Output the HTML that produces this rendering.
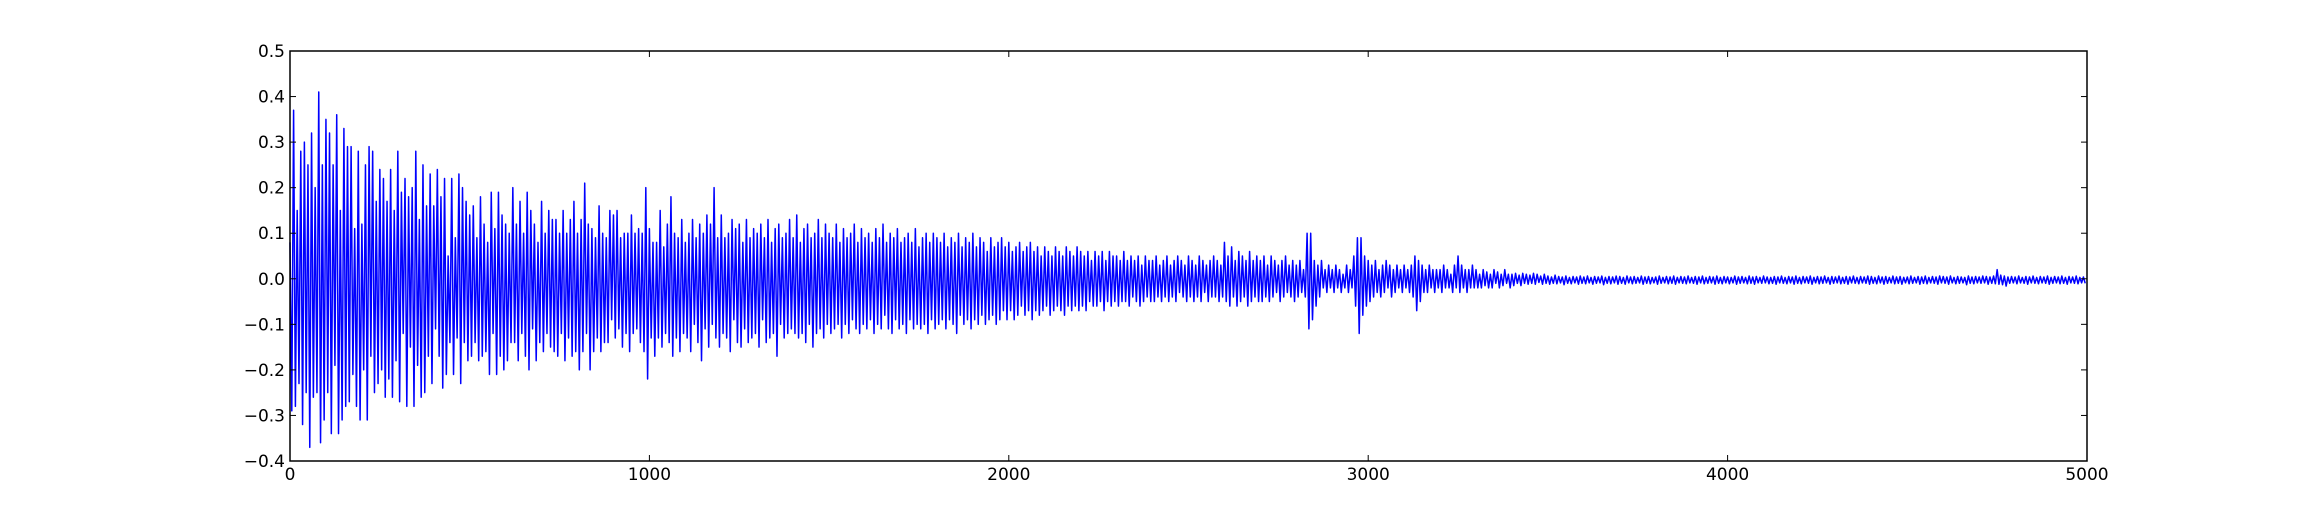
<!DOCTYPE html>
<html><head><meta charset="utf-8"><style>
html,body{margin:0;padding:0;background:#fff;}
svg{display:block;}
text{font-family:"DejaVu Sans","Liberation Sans",sans-serif;font-size:17px;fill:#000;}
</style></head><body>
<svg id="chart" width="2318" height="512" xmlns="http://www.w3.org/2000/svg">
<rect x="0" y="0" width="2318" height="512" fill="#fff"/>
<g id="plot"></g>
<g id="axes"></g>
</svg>
<script>
const xTicks = [0, 1000, 2000, 3000, 4000, 5000];
const yTicks = [-0.4, -0.3, -0.2, -0.1, 0.0, 0.1, 0.2, 0.3, 0.4, 0.5];
const sampleStep = 5;
const amplitude = [
0.08,-0.29,0.37,-0.28,0.15,-0.23,0.28,-0.32,0.30,-0.25,0.25,-0.37,0.32,-0.26,0.20,-0.25,0.41,-0.36,0.25,-0.31,
0.35,-0.25,0.32,-0.34,0.25,-0.19,0.36,-0.34,0.15,-0.31,0.33,-0.28,0.29,-0.27,0.29,-0.21,0.11,-0.28,0.28,-0.31,
0.12,-0.20,0.25,-0.31,0.29,-0.17,0.28,-0.25,0.17,-0.23,0.24,-0.20,0.22,-0.26,0.17,-0.22,0.24,-0.26,0.15,-0.18,
0.28,-0.27,0.19,-0.12,0.22,-0.28,0.18,-0.15,0.20,-0.28,0.28,-0.19,0.13,-0.26,0.25,-0.25,0.16,-0.17,0.23,-0.23,
0.16,-0.11,0.24,-0.17,0.18,-0.24,0.22,-0.21,0.05,-0.14,0.22,-0.21,0.09,-0.13,0.23,-0.23,0.20,-0.14,0.17,-0.18,
0.14,-0.17,0.16,-0.14,0.09,-0.18,0.18,-0.17,0.12,-0.16,0.08,-0.21,0.19,-0.12,0.11,-0.21,0.19,-0.17,0.14,-0.20,
0.12,-0.18,0.10,-0.14,0.20,-0.14,0.12,-0.18,0.17,-0.12,0.10,-0.17,0.19,-0.20,0.15,-0.11,0.12,-0.18,0.08,-0.14,
0.17,-0.16,0.10,-0.12,0.15,-0.15,0.13,-0.16,0.13,-0.17,0.10,-0.12,0.15,-0.18,0.10,-0.13,0.13,-0.17,0.17,-0.16,
0.10,-0.20,0.13,-0.16,0.21,-0.12,0.12,-0.20,0.11,-0.16,0.09,-0.13,0.16,-0.16,0.10,-0.14,0.09,-0.14,0.15,-0.09,
0.14,-0.13,0.15,-0.11,0.09,-0.15,0.10,-0.12,0.10,-0.16,0.14,-0.12,0.10,-0.11,0.11,-0.14,0.10,-0.16,0.20,-0.22,
0.11,-0.13,0.08,-0.17,0.08,-0.13,0.15,-0.15,0.07,-0.12,0.12,-0.14,0.18,-0.17,0.10,-0.13,0.09,-0.16,0.13,-0.12,
0.08,-0.13,0.10,-0.16,0.13,-0.10,0.09,-0.14,0.12,-0.18,0.10,-0.11,0.14,-0.15,0.12,-0.10,0.20,-0.13,0.09,-0.15,
0.14,-0.12,0.09,-0.13,0.10,-0.16,0.13,-0.09,0.11,-0.14,0.12,-0.15,0.08,-0.11,0.13,-0.14,0.09,-0.13,0.11,-0.12,
0.10,-0.15,0.12,-0.09,0.09,-0.14,0.13,-0.13,0.08,-0.12,0.11,-0.17,0.12,-0.10,0.09,-0.13,0.10,-0.12,0.13,-0.11,
0.09,-0.12,0.14,-0.13,0.08,-0.12,0.11,-0.14,0.12,-0.10,0.09,-0.15,0.10,-0.12,0.13,-0.11,0.09,-0.13,0.12,-0.10,
0.10,-0.12,0.09,-0.11,0.12,-0.10,0.08,-0.13,0.11,-0.10,0.09,-0.12,0.10,-0.09,0.12,-0.11,0.08,-0.12,0.11,-0.10,
0.09,-0.11,0.10,-0.09,0.08,-0.12,0.11,-0.10,0.09,-0.11,0.12,-0.08,0.08,-0.11,0.10,-0.12,0.09,-0.09,0.11,-0.11,
0.08,-0.10,0.09,-0.12,0.10,-0.09,0.08,-0.11,0.11,-0.10,0.07,-0.11,0.09,-0.10,0.10,-0.12,0.08,-0.09,0.10,-0.11,
0.09,-0.10,0.08,-0.09,0.10,-0.11,0.07,-0.09,0.09,-0.10,0.08,-0.12,0.10,-0.08,0.07,-0.10,0.09,-0.09,0.08,-0.11,
0.10,-0.09,0.07,-0.10,0.09,-0.08,0.08,-0.10,0.06,-0.09,0.09,-0.08,0.07,-0.10,0.08,-0.09,0.09,-0.07,0.07,-0.09,
0.08,-0.07,0.06,-0.09,0.07,-0.08,0.08,-0.06,0.06,-0.08,0.07,-0.07,0.08,-0.09,0.06,-0.07,0.07,-0.08,0.05,-0.07,
0.07,-0.06,0.06,-0.08,0.05,-0.07,0.07,-0.06,0.06,-0.07,0.05,-0.08,0.07,-0.06,0.06,-0.07,0.05,-0.06,0.07,-0.07,
0.06,-0.06,0.05,-0.07,0.06,-0.05,0.04,-0.06,0.06,-0.06,0.05,-0.05,0.06,-0.07,0.04,-0.05,0.06,-0.06,0.05,-0.05,
0.05,-0.06,0.04,-0.05,0.06,-0.05,0.04,-0.06,0.05,-0.04,0.04,-0.05,0.05,-0.06,0.03,-0.05,0.05,-0.04,0.04,-0.05,
0.04,-0.05,0.05,-0.04,0.03,-0.05,0.04,-0.04,0.05,-0.05,0.03,-0.04,0.04,-0.05,0.05,-0.03,0.04,-0.04,0.03,-0.05,
0.05,-0.04,0.04,-0.05,0.03,-0.04,0.05,-0.05,0.04,-0.03,0.03,-0.05,0.04,-0.04,0.05,-0.04,0.04,-0.05,0.03,-0.04,
0.08,-0.05,0.05,-0.06,0.07,-0.04,0.04,-0.06,0.06,-0.05,0.05,-0.04,0.04,-0.06,0.06,-0.05,0.04,-0.04,0.05,-0.05,
0.04,-0.05,0.05,-0.04,0.03,-0.05,0.05,-0.04,0.04,-0.03,0.03,-0.05,0.04,-0.04,0.05,-0.03,0.03,-0.04,0.04,-0.05,
0.03,-0.04,0.04,-0.03,0.02,-0.04,0.10,-0.11,0.10,-0.09,0.04,-0.06,0.03,-0.04,0.04,-0.02,0.02,-0.03,0.03,-0.02,
0.02,-0.03,0.03,-0.02,0.02,-0.03,0.01,-0.02,0.03,-0.03,0.02,-0.02,0.05,-0.06,0.09,-0.12,0.09,-0.08,0.05,-0.06,
0.04,-0.05,0.03,-0.04,0.04,-0.03,0.02,-0.04,0.03,-0.03,0.04,-0.02,0.03,-0.04,0.02,-0.03,0.03,-0.02,0.02,-0.03,
0.03,-0.02,0.02,-0.03,0.03,-0.04,0.05,-0.07,0.04,-0.05,0.03,-0.03,0.02,-0.03,0.03,-0.02,0.02,-0.03,0.02,-0.02,
0.02,-0.03,0.03,-0.02,0.02,-0.02,0.01,-0.03,0.03,-0.02,0.05,-0.03,0.03,-0.02,0.02,-0.03,0.02,-0.02,0.03,-0.02,
0.02,-0.02,0.01,-0.02,0.02,-0.015,0.015,-0.02,0.01,-0.02,0.02,-0.01,0.015,-0.02,0.01,-0.015,0.02,-0.01,0.01,-0.02,
0.01,-0.015,0.012,-0.01,0.008,-0.015,0.012,-0.01,0.01,-0.012,0.008,-0.01,0.012,-0.012,0.01,-0.008,0.006,-0.012,0.01,-0.01,
0.006,-0.012,0.004,-0.01,0.008,-0.011,0.005,-0.009,0.004,-0.013,0.006,-0.01,0.003,-0.011,0.005,-0.009,0.004,-0.012,0.006,-0.01,
0.004,-0.011,0.006,-0.009,0.003,-0.012,0.005,-0.01,0.004,-0.009,0.006,-0.013,0.003,-0.01,0.005,-0.011,0.004,-0.009,0.006,-0.012,
0.005,-0.01,0.003,-0.012,0.006,-0.009,0.004,-0.011,0.005,-0.01,0.003,-0.009,0.006,-0.012,0.004,-0.01,0.005,-0.011,0.003,-0.009,
0.004,-0.012,0.006,-0.01,0.003,-0.009,0.005,-0.011,0.004,-0.01,0.006,-0.012,0.003,-0.009,0.005,-0.01,0.004,-0.011,0.006,-0.009,
0.003,-0.01,0.005,-0.012,0.004,-0.009,0.006,-0.011,0.003,-0.01,0.005,-0.009,0.004,-0.012,0.006,-0.01,0.003,-0.011,0.005,-0.009,
0.004,-0.011,0.003,-0.009,0.006,-0.012,0.004,-0.01,0.005,-0.009,0.003,-0.011,0.006,-0.01,0.004,-0.012,0.005,-0.009,0.003,-0.01,
0.006,-0.009,0.004,-0.011,0.003,-0.01,0.005,-0.012,0.004,-0.009,0.006,-0.01,0.003,-0.011,0.005,-0.009,0.004,-0.012,0.006,-0.01,
0.003,-0.011,0.005,-0.009,0.004,-0.01,0.006,-0.012,0.003,-0.009,0.005,-0.011,0.004,-0.01,0.006,-0.009,0.003,-0.012,0.005,-0.01,
0.004,-0.009,0.006,-0.011,0.003,-0.01,0.005,-0.012,0.004,-0.009,0.006,-0.01,0.003,-0.011,0.005,-0.009,0.004,-0.01,0.006,-0.012,
0.005,-0.01,0.003,-0.011,0.006,-0.009,0.004,-0.012,0.005,-0.01,0.003,-0.009,0.006,-0.011,0.004,-0.01,0.005,-0.012,0.003,-0.009,
0.004,-0.011,0.006,-0.01,0.003,-0.009,0.005,-0.012,0.004,-0.01,0.006,-0.011,0.003,-0.009,0.005,-0.01,0.004,-0.012,0.006,-0.009,
0.005,-0.01,0.004,-0.012,0.006,-0.009,0.003,-0.011,0.005,-0.01,0.004,-0.009,0.003,-0.013,0.006,-0.01,0.004,-0.011,0.005,-0.009,
0.004,-0.01,0.006,-0.009,0.005,-0.012,0.004,-0.01,0.006,-0.011,0.02,-0.012,0.008,-0.013,0.006,-0.016,0.004,-0.01,0.005,-0.009,
0.004,-0.011,0.006,-0.009,0.003,-0.01,0.005,-0.012,0.004,-0.009,0.006,-0.01,0.003,-0.011,0.005,-0.009,0.004,-0.01,0.006,-0.012,
0.003,-0.01,0.005,-0.009,0.004,-0.011,0.006,-0.01,0.003,-0.012,0.005,-0.009,0.004,-0.01,0.006,-0.011,0.003,-0.009,0.004,-0.01
];
const L=290,R=2087,T=51,B=461;
const xMin=0,xMax=5000,yMin=-0.4,yMax=0.5;
function xs(v){return L+(v-xMin)/(xMax-xMin)*(R-L);}
function ys(v){return B-(v-yMin)/(yMax-yMin)*(B-T);}
const NS="http://www.w3.org/2000/svg";
const plot=document.getElementById('plot'),axes=document.getElementById('axes');
let d="";
amplitude.forEach((v,i)=>{d+=(i?"L":"M")+xs(i*sampleStep).toFixed(2)+","+ys(v).toFixed(2);});
const path=document.createElementNS(NS,'path');
path.setAttribute('d',d);path.setAttribute('fill','none');path.setAttribute('stroke','#0000ff');
path.setAttribute('stroke-width','1.5');path.setAttribute('stroke-linejoin','round');


plot.appendChild(path);
const frame=document.createElementNS(NS,'rect');
frame.setAttribute('x',L);frame.setAttribute('y',T);frame.setAttribute('width',R-L);frame.setAttribute('height',B-T);
frame.setAttribute('fill','none');frame.setAttribute('stroke','#000');frame.setAttribute('stroke-width','1.5');


axes.appendChild(frame);
function line(x1,y1,x2,y2,name){const l=document.createElementNS(NS,'line');
l.setAttribute('x1',x1);l.setAttribute('y1',y1);l.setAttribute('x2',x2);l.setAttribute('y2',y2);
l.setAttribute('stroke','#000');l.setAttribute('stroke-width','1');


axes.appendChild(l);}
xTicks.forEach(t=>{const x=xs(t);line(x,B,x,B-6,'x-tick');line(x,T,x,T+6,'x-tick-top');
const tx=document.createElementNS(NS,'text');tx.setAttribute('x',x);tx.setAttribute('y',B+19);tx.setAttribute('text-anchor','middle');
tx.textContent=String(t);


axes.appendChild(tx);});
yTicks.forEach(t=>{const y=ys(t);line(L,y,L+6,y,'y-tick');line(R,y,R-6,y,'y-tick-right');
const tx=document.createElementNS(NS,'text');tx.setAttribute('x',L-5);tx.setAttribute('y',y+6);tx.setAttribute('text-anchor','end');
tx.textContent=(t<0?"\u2212":"")+Math.abs(t).toFixed(1);


axes.appendChild(tx);});
</script>
</body></html>
